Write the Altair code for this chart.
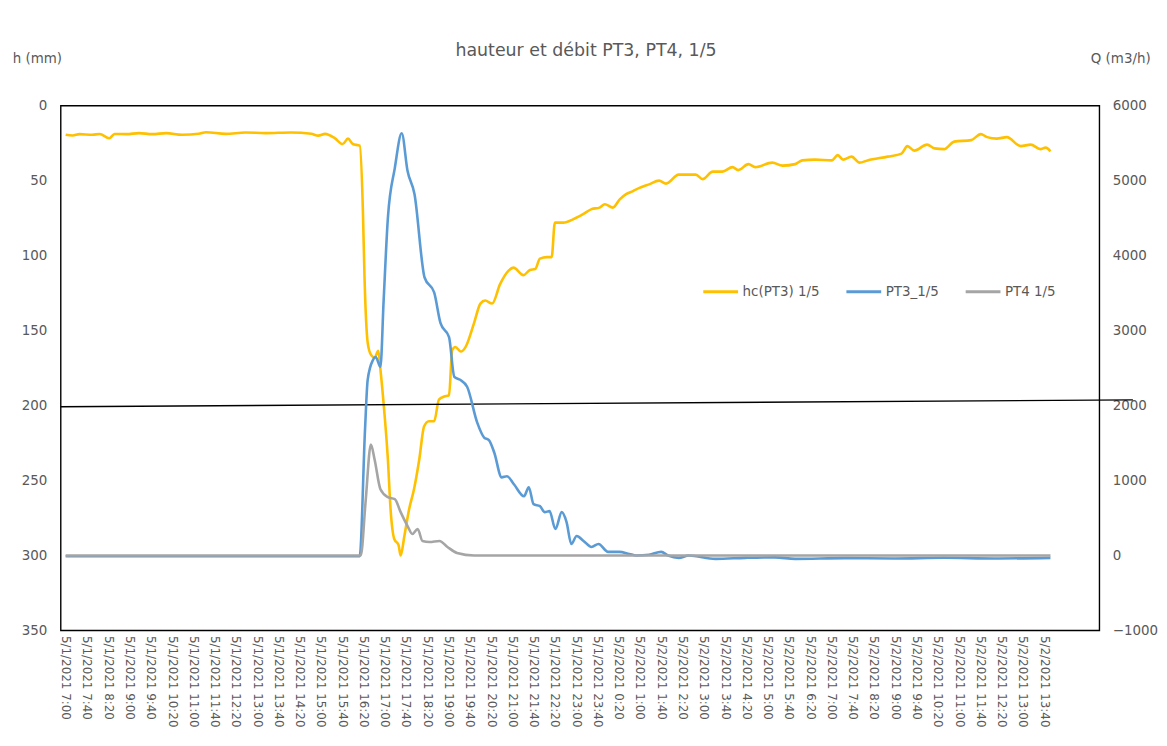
import altair as alt
import pandas as pd

START = pd.Timestamp("2021-05-01 07:00:00")

# hc(PT3) 1/5 : height (mm), minutes after 5/1/2021 7:00
h_minutes = [0, 13, 26, 50, 64, 82, 92, 114, 138, 163,
             189, 219, 250, 264, 301, 338, 376, 424, 462, 475,
             488, 506, 521, 531, 540, 553, 559, 562, 568, 574,
             581, 588, 592, 599, 606, 611, 618, 626, 630, 637,
             646, 655, 665, 674, 683, 693, 702, 712, 721, 727,
             733, 743, 752, 768, 780, 789, 802, 817, 833, 842,
             861, 873, 883, 892, 905, 914, 920, 936, 955, 973,
             989, 1004, 1014, 1029, 1042, 1054, 1067, 1078, 1097, 1116,
             1129, 1153, 1185, 1198, 1217, 1235, 1254, 1265, 1284, 1297,
             1329, 1348, 1372, 1385, 1409, 1441, 1452, 1462, 1478, 1493,
             1508, 1546, 1572, 1583, 1596, 1620, 1634, 1652, 1671, 1703,
             1721, 1733, 1751, 1770, 1796, 1815, 1833, 1843, 1852]
h_values = [19.4, 19.9, 19, 19.4, 18.9, 21.7, 18.9, 19, 18.3, 19,
            18.3, 19.4, 18.8, 17.7, 18.8, 17.9, 18.3, 17.9, 18.8, 20,
            18.8, 21.7, 25.6, 22, 25.6, 26.7, 70, 114, 158, 166,
            168, 163.5, 176, 203, 236, 269, 289, 293, 300, 287,
            269, 256, 236, 214, 210.5, 210.5, 196, 194, 193, 163,
            161, 164, 161, 145, 132, 130, 132, 119, 110, 108,
            113, 109.6, 109, 102, 101, 101, 78, 78, 75.7, 72.4,
            69, 68, 65.8, 68, 62.5, 59, 57, 55, 52.5, 50,
            52, 46, 46, 49, 44, 44, 41, 43, 39, 41,
            38, 40, 39, 36.5, 36, 36.5, 33, 36, 34, 38,
            36.5, 34, 32, 27, 30, 26, 28.5, 29, 24, 23,
            19, 21, 22, 21, 27, 26, 29, 28, 30.5]

# PT3_1/5 : flow (m3/h)
pt3_minutes = [0, 553, 563, 568, 578, 583, 592, 598, 606, 619,
               632, 643, 656, 675, 693, 705, 721, 731, 742, 755,
               774, 787, 796, 806, 820, 830, 843, 862, 871, 880,
               892, 901, 910, 921, 933, 942, 951, 961, 974, 989,
               1002, 1020, 1041, 1060, 1073, 1097, 1120, 1133, 1153, 1172,
               1222, 1278, 1334, 1372, 1465, 1559, 1652, 1746, 1852]
pt3_values = [-10, -10, 1679, 2343, 2608, 2648, 2516, 3400, 4504, 5167,
              5632, 5127, 4822, 3708, 3509, 3098, 2913, 2383, 2343, 2250,
              1772, 1573, 1540, 1373, 1042, 1056, 950, 790, 910, 684,
              658, 578, 592, 353, 578, 446, 154, 260, 194, 114,
              154, 48, 48, 21, 0, 10, 48, 0, -32, 0,
              -45, -32, -25, -45, -35, -40, -30, -40, -32]

# PT4 1/5 : flow (m3/h)
pt4_minutes = [0, 555, 564, 574, 581, 592, 606, 619, 630, 643,
               652, 662, 671, 684, 703, 718, 736, 768, 1852]
pt4_values = [0, 0, 711, 1480, 1281, 883, 777, 751, 578, 393,
              287, 353, 194, 180, 194, 114, 34, 0, 0]

# hand-drawn black reference line (in h units)
ref_minutes = [-9.35, 2007]
ref_h = [200.8, 196.2]

series_names = ["hc(PT3) 1/5", "PT3_1/5", "PT4 1/5"]
series_colors = ["#FFC000", "#5B9BD5", "#A5A5A5"]

tick_minutes = list(range(0, 1841, 40))
domain_minutes = [-9.35, 1944]

TXT = "#595959"
FONT = "DejaVu Sans"
FS = 13.5
XFS = 12


def to_time(mins):
    return [(START + pd.Timedelta(minutes=m)).strftime("%Y-%m-%dT%H:%M:%S") for m in mins]


def dt(m):
    ts = START + pd.Timedelta(minutes=m)
    return alt.DateTime(year=ts.year, month=ts.month, date=ts.day,
                        hours=ts.hour, minutes=ts.minute, seconds=ts.second)


df_h = pd.DataFrame({"time": to_time(h_minutes), "value": h_values, "series": series_names[0]})
df_pt3 = pd.DataFrame({"time": to_time(pt3_minutes), "value": pt3_values, "series": series_names[1]})
df_pt4 = pd.DataFrame({"time": to_time(pt4_minutes), "value": pt4_values, "series": series_names[2]})
df_ref = pd.DataFrame({"time": to_time(ref_minutes), "value": ref_h})

xscale = alt.Scale(domain=[dt(domain_minutes[0]), dt(domain_minutes[1])])
x_axis_def = alt.Axis(values=[dt(m) for m in tick_minutes], format="%-m/%-d/%Y %-H:%M",
                      labelAngle=90, labelAlign="left", labelBaseline="middle",
                      title=None, grid=False, ticks=False, domain=False, labelPadding=5,
                      labelFontSize=XFS, labelColor=TXT, labelFont=FONT, labelOverlap=False,
                      labelFlush=False)
x_enc = alt.X("time:T", scale=xscale, axis=x_axis_def)

yleft_scale = alt.Scale(domain=[0, 350], reverse=True, nice=False, zero=False)
yleft_axis = alt.Axis(values=list(range(0, 351, 50)), orient="left", title="h (mm)",
                      titleAngle=0, titleX=-24, titleY=-47, titleAlign="center",
                      titleBaseline="middle", titleFontWeight="normal", titleFontSize=FS,
                      titleColor=TXT, titleFont=FONT, format="d",
                      grid=False, ticks=False, domain=False, labelPadding=14,
                      labelFontSize=FS, labelColor=TXT, labelFont=FONT)
yleft = alt.Y("value:Q", scale=yleft_scale, axis=yleft_axis)

yright_scale = alt.Scale(domain=[-1000, 6000], nice=False, zero=False)
yright_axis = alt.Axis(values=list(range(-1000, 6001, 1000)), orient="right", title="Q (m3/h)",
                       titleAngle=0, titleX=21, titleY=-47, titleAlign="center",
                       titleBaseline="middle", titleFontWeight="normal", titleFontSize=FS,
                       titleColor=TXT, titleFont=FONT, format="d",
                       grid=False, ticks=False, domain=False, labelPadding=13,
                       labelFontSize=FS, labelColor=TXT, labelFont=FONT)
yright = alt.Y("value:Q", scale=yright_scale, axis=yright_axis)

cscale = alt.Scale(domain=series_names, range=series_colors)
legend_def = alt.Legend(orient="none", legendX=645, legendY=168, direction="horizontal",
                        title=None, symbolType="stroke", symbolStrokeWidth=3,
                        symbolSize=1225, labelFontSize=FS, labelColor=TXT,
                        labelFont=FONT, columnPadding=20, labelOffset=3)
c_enc = alt.Color("series:N", scale=cscale, legend=legend_def)

h_line = alt.Chart(df_h).mark_line(strokeWidth=2.6, interpolate="monotone").encode(
    x=x_enc, y=yleft, color=c_enc)

ref_line = alt.Chart(df_ref).mark_line(color="black", strokeWidth=1.4, clip=False).encode(
    x=x_enc, y=yleft)

left = alt.layer(h_line, ref_line)

pt3_line = alt.Chart(df_pt3).mark_line(strokeWidth=2.6, interpolate="monotone").encode(
    x=x_enc, y=yright, color=c_enc)
pt4_line = alt.Chart(df_pt4).mark_line(strokeWidth=2.6, interpolate="monotone").encode(
    x=x_enc, y=yright, color=c_enc)

right = alt.layer(pt3_line, pt4_line)

chart = alt.layer(left, right).resolve_scale(y="independent").properties(
    width=1045, height=528,
    autosize=alt.AutoSizeParams(type="none"),
    padding={"left": 53, "top": 96, "right": 60, "bottom": 113},
    background="white",
    title=alt.TitleParams("hauteur et débit PT3, PT4, 1/5", fontSize=17.5, fontWeight="normal",
                          color=TXT, font=FONT, offset=-8, dx=6),
).configure_view(stroke="black", strokeWidth=1.4)

chart.save("out.html", embed_options={"renderer": "svg", "actions": False})
